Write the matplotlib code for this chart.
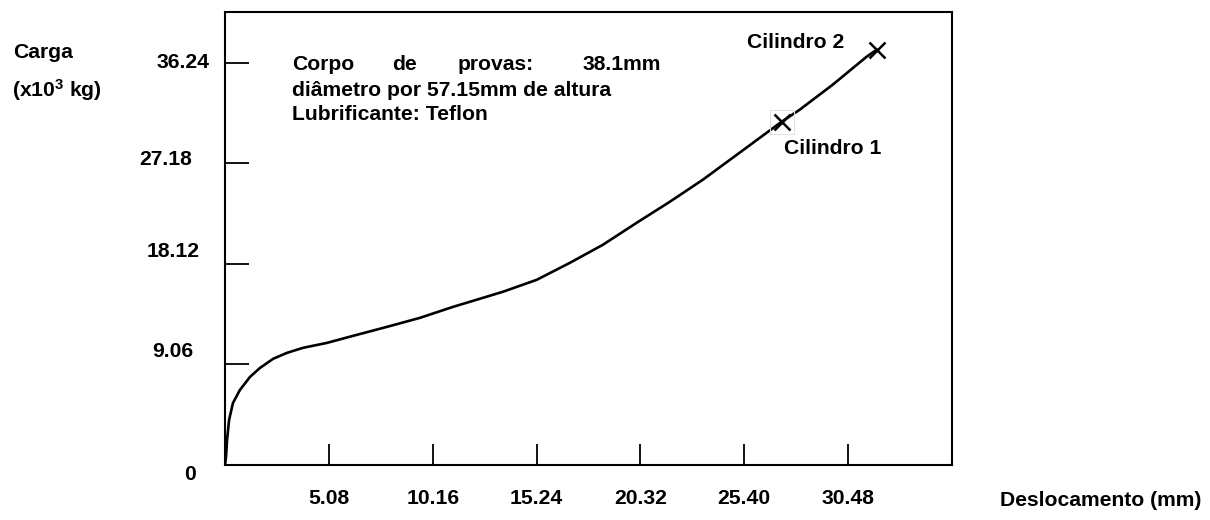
import numpy as np
import matplotlib
matplotlib.use("Agg")
import matplotlib.pyplot as plt
import matplotlib.transforms as mtransforms

# deslocamento (mm) x carga (x10^3 kg)
desloc = [0.0, 0.05, 0.10, 0.20, 0.39, 0.73, 1.22, 1.71, 2.35, 3.03, 3.81,
          4.99, 6.26, 7.92, 9.53, 11.15, 12.12, 13.59, 15.25, 16.87, 18.48,
          20.14, 21.76, 23.37, 24.84, 26.50, 27.23, 28.11, 29.73, 31.39, 31.88]
carga = [0.0, 0.72, 2.25, 4.06, 5.59, 6.76, 7.93, 8.74, 9.56, 10.10, 10.55,
         11.00, 11.63, 12.44, 13.25, 14.24, 14.78, 15.60, 16.68, 18.21, 19.83,
         21.82, 23.71, 25.69, 27.68, 29.93, 30.92, 32.00, 34.26, 36.78, 37.41]

cil_x = [27.23, 31.88]
cil_y = [30.92, 37.41]
cil_names = ["Cilindro 1", "Cilindro 2"]

xticks = [5.08, 10.16, 15.24, 20.32, 25.40, 30.48]
xlabels = ["5.08", "10.16", "15.24", "20.32", "25.40", "30.48"]
yticks = [0, 9.06, 18.12, 27.18, 36.24]
ylabels = ["0", "9.06", "18.12", "27.18", "36.24"]

W, H = 1210, 520
plt.rcParams['font.family'] = ['Liberation Sans', 'DejaVu Sans']
plt.rcParams['font.weight'] = 'bold'
plt.rcParams['mathtext.fontset'] = 'custom'
plt.rcParams['mathtext.rm'] = 'Liberation Sans:bold'
plt.rcParams['mathtext.default'] = 'rm'
FS = 15.2

fig = plt.figure(figsize=(W / 100, H / 100), dpi=100)
ax = fig.add_axes([225 / W, 1 - 465 / H, (952 - 225) / W, (465 - 12) / H])

def px(x, y):
    return x / W, 1 - y / H

ax.plot(desloc, carga, color='black', lw=1.9, solid_capstyle='round',
        solid_joinstyle='round')
ax.plot(cil_x[:1], cil_y[:1], marker='s', ms=17, mfc='none', mec='#e2e2e2',
        mew=0.8, ls='none')
ax.plot(cil_x, cil_y, marker='x', ms=12, mew=1.8, color='black', ls='none')

ax.set_xlim(0, 35.56)
ax.set_ylim(0, 40.8)
for s in ax.spines.values():
    s.set_linewidth(1.5)

ax.set_xticks(xticks)
ax.set_xticklabels(xlabels, fontsize=FS)
ax.set_yticks(yticks)
ax.set_yticklabels(ylabels, fontsize=FS)
ax.tick_params(axis='x', direction='in', length=15, width=1.3, pad=17)
ax.tick_params(axis='y', direction='in', length=17, width=1.3, pad=18)

# shift y tick labels a little, as in the original
offs = [(-4, -7), (-7, 15), (0, 14), (-8, 6), (10, 2)]
for lab, (dx, dy) in zip(ax.get_yticklabels(), offs):
    lab.set_transform(lab.get_transform() +
                      mtransforms.ScaledTranslation(dx / 100, dy / 100, fig.dpi_scale_trans))

fig.text(*px(13, 52), "Carga", fontsize=FS, va='center', ha='left')
fig.text(*px(12, 90), r"(x10$^{3}$ kg)", fontsize=FS, va='center', ha='left')
fig.text(*px(1000, 500), "Deslocamento (mm)", fontsize=FS, va='center', ha='left')

# justified first line of the note
for word, x0 in zip(["Corpo", "de", "provas:", "38.1mm"], [292, 392, 458, 583]):
    fig.text(*px(x0, 64), word, fontsize=FS, va='center', ha='left')
fig.text(*px(292, 90), "diâmetro por 57.15mm de altura", fontsize=FS, va='center', ha='left')
fig.text(*px(292, 115), "Lubrificante: Teflon", fontsize=FS, va='center', ha='left')

fig.text(*px(784, 148), cil_names[0], fontsize=FS, va='center', ha='left')
fig.text(*px(747, 42), cil_names[1], fontsize=FS, va='center', ha='left')

fig.savefig("out.png", dpi=100)
